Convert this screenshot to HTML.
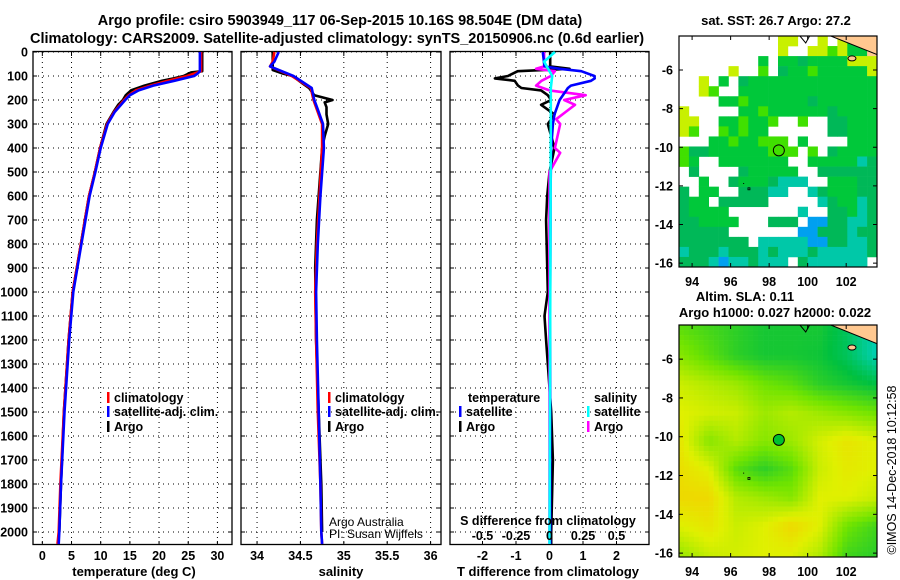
<!DOCTYPE html>
<html><head><meta charset="utf-8"><style>
html,body{margin:0;padding:0;background:#fff;}
svg{display:block;font-family:"Liberation Sans",sans-serif;}
.t{font-weight:bold;font-size:13px;}
.tk{font-weight:bold;font-size:12.5px;}
</style></head><body>
<svg id="c" width="900" height="580" viewBox="0 0 900 580">
<text x="340" y="25" text-anchor="middle" style="font-size:14.5px;font-weight:bold">Argo profile: csiro 5903949_117 06-Sep-2015 10.16S 98.504E (DM data)</text>
<text x="337" y="43" text-anchor="middle" style="font-size:14.5px;font-weight:bold">Climatology: CARS2009. Satellite-adjusted climatology: synTS_20150906.nc (0.6d earlier)</text>
<text x="776" y="25" text-anchor="middle" class="t">sat. SST: 26.7 Argo: 27.2</text>
<text x="745" y="301" text-anchor="middle" class="t">Altim. SLA: 0.11</text>
<text x="775" y="317" text-anchor="middle" class="t">Argo h1000: 0.027 h2000: 0.022</text>
<text transform="translate(896,470) rotate(-90)" text-anchor="middle" style="font-size:12.5px">©IMOS 14-Dec-2018 10:12:58</text>
<g id="g"></g>
</svg>
<script>
// ---- data ----
const depthTicks=[0,100,200,300,400,500,600,700,800,900,1000,1100,1200,1300,1400,1500,1600,1700,1800,1900,2000];
const tempTicks=[0,5,10,15,20,25,30];
const salTicks=[34,34.5,35,35.5,36];
const salTickLabels=["34","34.5","35","35.5","36"];
const tdiffTicks=[-2,-1,0,1,2];
const sdiffLabels=["-0.5","-0.25","0","0.25","0.5"];
const sdiffTicks=[-0.5,-0.25,0,0.25,0.5];

const argoTDepth=[0,80,85,100,110,120,140,160,180,200,220,250,300,400,500,600,700,800,1000,1200,1500,1800,2000];
const argoT=[27.4,27.4,25.5,24.2,22.5,20.5,17.5,15.2,14.3,13.8,13.0,12.2,11.0,9.9,9.0,8.0,7.3,6.6,5.2,4.5,3.7,3.2,2.9];
const climTDepth=[0,80,90,100,120,140,160,180,200,250,300,400,500,600,700,800,1000,1200,1500,1800,2000,2050];
const climT=[27.2,27.2,26.0,24.8,21.5,18.5,16.0,14.8,14.0,12.3,11.1,9.9,9.0,8.0,7.3,6.6,5.2,4.5,3.7,3.1,2.8,2.6];
const satT=[27.0,27.0,26.6,26.0,22.6,19.0,16.5,15.0,14.2,12.4,11.2,10.0,9.1,8.1,7.4,6.7,5.3,4.6,3.8,3.2,2.9,2.8];

const argoSDepth=[0,75,90,100,130,150,180,200,210,230,260,300,350,400,500,700,900,1200,1500,1800,2000];
const argoS=[34.18,34.18,34.3,34.41,34.52,34.6,34.66,34.87,34.78,34.8,34.8,34.82,34.78,34.75,34.73,34.69,34.67,34.68,34.71,34.74,34.75];
const climSDepth=[0,40,60,100,150,200,250,300,400,600,800,1000,1200,1500,1800,2000,2050];
const climS=[34.2,34.18,34.15,34.4,34.62,34.65,34.7,34.75,34.75,34.72,34.69,34.67,34.68,34.7,34.73,34.74,34.75];
const satS=[34.25,34.2,34.15,34.42,34.63,34.66,34.71,34.76,34.77,34.73,34.7,34.68,34.69,34.71,34.73,34.74,34.75];

const tdDepth=[0,60,70,80,100,110,120,140,150,160,180,200,220,260,300,400,500,600,700,1000,1100,1200,1500,1700,2000,2050];
const tdArgo=[0.02,0.02,0.6,-0.95,-1.24,-1.63,-1.04,-0.94,-0.84,-0.25,-0.05,0.05,-0.25,0.15,-0.05,0.15,0.0,-0.07,-0.1,-0.05,-0.15,-0.1,0.05,0.1,0.05,0.05];
const tdSat=[-0.2,-0.15,0.3,0.95,1.34,1.35,1.24,0.64,0.55,0.5,0.4,0.3,0.25,0.15,0.1,0.05,0.04,0.03,0.03,0.02,0.02,0.02,0.02,0.02,0.02,0.02];
const sdDepth=[0,60,70,80,100,120,140,160,180,200,220,250,280,300,400,420,500,1000,1500,2050];
const sdArgo=[-0.04,-0.04,-0.1,0.04,0.01,-0.06,-0.1,0.0,0.27,0.11,0.19,0.12,0.05,0.08,0.04,0.08,0.0,0.0,0.0,0.0];
const sdSatDepth=[0,40,100,150,300,2050];
const sdSat=[0.04,-0.04,0.02,0.01,0.01,0.0];

// SST map categories per cell (rows north->south)
const sstRows=[
"..........yy..y.yggo","..........y..yylyggo","........g.ggdggggyyy",".....y..l.dgglgggggy",
"..y.g.dggggggggggggg","..yl..gggggggggggggg","....gglggggggdgggggg","y.....gglggggggdgggg",
"yy..gglggl..l..ddggg","yl..lglgg......ddggg","...gglgglll.g....ggg","lddgggggglll.l.dgggg",
"lg..ggggggg..gggggcd",".d....dggggg..dddddd","..g..dgggdccc..gggdd","d.gg..dddcc..cdgggdd",
"dgg.ddddd.....cdggcd","dgggg.......c..ddgcd","ddgggg...ddd.bbddccd","ddddd.......bbdddcdd",
"ddddddd.cccccbbddccd","cdddcdddcdcccdcccccd","dddcbccdccc.dcccccc."];
// SLA coarse field (0 teal ... 1 orange)
const slaField=[
[0.45,0.4,0.35,0.3,0.3,0.3,0.2,0.05],
[0.55,0.45,0.35,0.3,0.3,0.28,0.2,0.05],
[0.7,0.65,0.6,0.5,0.45,0.35,0.3,0.25],
[0.75,0.72,0.7,0.6,0.65,0.6,0.55,0.5],
[0.78,0.55,0.65,0.55,0.6,0.72,0.8,0.75],
[0.82,0.75,0.45,0.35,0.45,0.7,0.78,0.75],
[0.85,0.85,0.65,0.6,0.55,0.75,0.75,0.7],
[0.75,0.8,0.7,0.75,0.85,0.75,0.5,0.4],
[0.6,0.7,0.72,0.75,0.75,0.65,0.4,0.35]];
const lonTicks=[94,96,98,100,102];
const latTicks=[-6,-8,-10,-12,-14,-16];
const floatLon=98.504, floatLat=-10.16;

// ---- drawing ----
const NS="http://www.w3.org/2000/svg";
const G=document.getElementById('g');
function el(t,a,p){const e=document.createElementNS(NS,t);for(const k in a)e.setAttribute(k,a[k]);(p||G).appendChild(e);return e;}
const Y0=52,Y1=545;
const yD=d=>Y0+d*0.24;
const panels=[{x0:33,x1:232,v0:-1.6,v1:32.5},{x0:241,x1:441,v0:33.815,v1:36.12},{x0:450,x1:649,v0:-2.97,v1:2.97}];
panels.forEach(p=>p.f=v=>p.x0+(v-p.v0)/(p.v1-p.v0)*(p.x1-p.x0));
const names=['temperature','salinity','difference'];
panels.forEach((p,i)=>{
  const g=el('g',{});
  
  
  depthTicks.forEach(d=>{
    const l=el('line',{x1:p.x0,x2:p.x1,y1:yD(d),y2:yD(d),stroke:'#000','stroke-width':1,'stroke-dasharray':'1,4'},g);
    
    
    el('line',{x1:p.x0,x2:p.x0+4,y1:yD(d),y2:yD(d),stroke:'#000'},g);
    el('line',{x1:p.x1-4,x2:p.x1,y1:yD(d),y2:yD(d),stroke:'#000'},g);
  });
  const xt=i==0?tempTicks:i==1?salTicks:tdiffTicks;
  xt.forEach((v,j)=>{
    const x=p.f(v);
    el('line',{x1:x,x2:x,y1:Y0,y2:Y1,stroke:'#000','stroke-dasharray':'1,4'},g);
    el('line',{x1:x,x2:x,y1:Y1-4,y2:Y1,stroke:'#000'},g);
    el('line',{x1:x,x2:x,y1:Y0,y2:Y0+4,stroke:'#000'},g);
    const t=el('text',{x:x,y:560,'text-anchor':'middle',class:'tk'},g);
    t.textContent=i==1?salTickLabels[j]:String(v);
    
    
  });
  const r=el('rect',{x:p.x0,y:Y0-0.5,width:p.x1-p.x0,height:Y1-Y0,fill:'none',stroke:'#000','stroke-width':1.3},g);
  
  
});
depthTicks.forEach(d=>{
  const t=el('text',{x:28,y:yD(d)+4.5,'text-anchor':'end',class:'tk'});
  t.textContent=d;
  
  
});
[['temperature (deg C)',134,'x-axis-title-temperature'],['salinity',341,'x-axis-title-salinity'],['T difference from climatology',548,'x-axis-title-tdiff']].forEach(a=>{
  const t=el('text',{x:a[1],y:576,'text-anchor':'middle',class:'t'});t.textContent=a[0];
  
  
});
function line(p,vals,deps,col,nm,w){
  const pts=vals.map((v,i)=>p.f(v).toFixed(1)+','+yD(deps[i]).toFixed(1)).join(' ');
  const l=el('polyline',{points:pts,fill:'none',stroke:col,'stroke-width':w||2.6,'stroke-linejoin':'round'});
  
  
}
const P=panels;
line(P[0],argoT,argoTDepth,'#000','argo-temperature-line');
line(P[0],climT,climTDepth,'#f00','climatology-temperature-line');
line(P[0],satT,climTDepth,'#00f','satellite-temperature-line');
line(P[1],argoS,argoSDepth,'#000','argo-salinity-line');
line(P[1],climS,climSDepth,'#f00','climatology-salinity-line');
line(P[1],satS,climSDepth,'#00f','satellite-salinity-line');
line(P[2],tdArgo,tdDepth,'#000','argo-tdiff-line');
const sS=P[2].f, s4={f:v=>sS(v*4)};
line(s4,sdArgo,sdDepth,'#f0f','argo-sdiff-line');
line(P[2],tdSat,tdDepth,'#00f','satellite-tdiff-line');
line(s4,sdSat,sdSatDepth,'#0ff','satellite-sdiff-line');

function legend(x,y,col,txt,nm,bold){
  const b=el('rect',{x:x,y:y-10,width:2.5,height:11,fill:col});
  const t=el('text',{x:x+7,y:y,style:'font-size:12.5px;font-weight:bold'});t.textContent=txt;
  
  
}
legend(107,402,'#f00','climatology','legend-climatology');
legend(107,416,'#00f','satellite-adj. clim.','legend-satellite');
legend(107,431,'#000','Argo','legend-argo');
legend(328,402,'#f00','climatology','legend-climatology-sal');
legend(328,416,'#00f','satellite-adj. clim.','legend-satellite-sal');
legend(328,431,'#000','Argo','legend-argo-sal');
{const t=el('text',{x:468,y:402,class:'tk'});t.textContent='temperature';}
{const t=el('text',{x:594,y:402,class:'tk'});t.textContent='salinity';}
legend(459,416,'#00f','satellite','legend-t-satellite');
legend(459,431,'#000','Argo','legend-t-argo');
legend(587,416,'#0ff','satellite','legend-s-satellite');
legend(587,431,'#f0f','Argo','legend-s-argo');
{const t=el('text',{x:329,y:526,style:'font-size:12px'});t.textContent='Argo Australia';}
{const t=el('text',{x:329,y:538,style:'font-size:12px'});t.textContent='PI: Susan Wijffels';}
{const t=el('text',{x:548,y:525,'text-anchor':'middle',class:'tk'});t.textContent='S difference from climatology';}
sdiffTicks.forEach((v,i)=>{const t=el('text',{x:s4.f(v),y:540,'text-anchor':'middle',class:'tk'});t.textContent=sdiffLabels[i];
  });

// maps
const MX0=679,MX1=877,LON0=93.32,LON1=103.6,LAT0=-4.24,LAT1=-16.2;
const mx=l=>MX0+(l-LON0)/(LON1-LON0)*(MX1-MX0);
function drawMap(y0,y1,nm,fill){
  const my=l=>y0+(l-LAT0)/(LAT1-LAT0)*(y1-y0);
  const g=el('g',{});
  
  
  const cp='cp'+y0;
  const cl=el('clipPath',{id:cp},g);el('rect',{x:MX0,y:y0,width:MX1-MX0,height:y1-y0},cl);
  const gi=el('g',{'clip-path':'url(#'+cp+')'},g);
  fill(gi,my,y0,y1);
  // land & coast
  el('path',{d:`M${mx(101.2)},${y0} L${MX1},${y0} L${MX1},${my(-5.2)} Z`,fill:'#ffc890',stroke:'none'},gi);
  el('path',{d:`M${mx(101.2)},${y0} L${MX1},${my(-5.2)}`,stroke:'#000',fill:'none'},gi);
  el('path',{d:`M${mx(99.6)},${y0} L${mx(99.9)},${my(-4.6)} L${mx(100.1)},${y0}`,stroke:'#000',fill:'none'},gi);
  el('ellipse',{cx:mx(102.3),cy:my(-5.4),rx:4,ry:2.5,fill:'#ffc890',stroke:'#000'},gi);
  el('rect',{x:mx(96.9),y:my(-12.1),width:2,height:2,fill:'none',stroke:'#000','stroke-width':0.8},gi);
  el('rect',{x:mx(96.65),y:my(-11.85),width:1,height:1,fill:'#000'},gi);
  const c=el('circle',{cx:mx(floatLon),cy:my(floatLat),r:5.5,fill:nm=='sla-map'?'#00c030':'none',stroke:'#000','stroke-width':1},g);
  
  
  el('rect',{x:MX0,y:y0,width:MX1-MX0,height:y1-y0,fill:'none',stroke:'#000','stroke-width':1.2},g);
  lonTicks.forEach(v=>{el('line',{x1:mx(v),x2:mx(v),y1:y1,y2:y1-4,stroke:'#000'},g);el('line',{x1:mx(v),x2:mx(v),y1:y0,y2:y0+4,stroke:'#000'},g);
    const t=el('text',{x:mx(v),y:y1+19,'text-anchor':'middle',class:'tk'},g);t.textContent=v;
    });
  latTicks.forEach(v=>{el('line',{x1:MX0,x2:MX0+4,y1:my(v),y2:my(v),stroke:'#000'},g);el('line',{x1:MX1-4,x2:MX1,y1:my(v),y2:my(v),stroke:'#000'},g);
    const t=el('text',{x:673,y:my(v)+4.5,'text-anchor':'end',class:'tk'},g);t.textContent=v;
    });
}
const sstCol={y:'#c8f000',l:'#40e000',g:'#00c83a',d:'#00b858',c:'#00c8a8',b:'#00a0f0',o:'#ffc890'};
drawMap(36,267,'sst-map',(gi,my,y0,y1)=>{
  const R=sstRows.length,C=sstRows[0].length,cw=(MX1-MX0)/C,ch=(y1-y0)/R;
  sstRows.forEach((row,r)=>{for(let c=0;c<C;c++){const k=row[c];if(k=='.')continue;
    el('rect',{x:MX0+c*cw,y:y0+r*ch,width:cw+0.3,height:ch+0.3,fill:sstCol[k]},gi);}});
});
function slaColor(v){
  const st=[[0,[0,210,200]],[0.25,[0,192,64]],[0.5,[112,228,0]],[0.75,[224,240,0]],[0.9,[245,205,0]],[1,[250,190,0]]];
  for(let i=1;i<st.length;i++){if(v<=st[i][0]){const a=st[i-1],b=st[i],t=(v-a[0])/(b[0]-a[0]);
    return 'rgb('+a[1].map((q,j)=>Math.round(q+(b[1][j]-q)*t)).join(',')+')';}}
  return 'rgb(250,190,0)';
}
drawMap(325,557,'sla-map',(gi,my,y0,y1)=>{
  const R=slaField.length,C=slaField[0].length,N=40,M=46,cw=(MX1-MX0)/N,ch=(y1-y0)/M;
  for(let i=0;i<M;i++)for(let j=0;j<N;j++){
    const fr=i/(M-1)*(R-1),fc=j/(N-1)*(C-1),r0=Math.min(R-2,Math.floor(fr)),c0=Math.min(C-2,Math.floor(fc)),tr=fr-r0,tc=fc-c0;
    const v=slaField[r0][c0]*(1-tr)*(1-tc)+slaField[r0][c0+1]*(1-tr)*tc+slaField[r0+1][c0]*tr*(1-tc)+slaField[r0+1][c0+1]*tr*tc;
    el('rect',{x:MX0+j*cw,y:y0+i*ch,width:cw+0.3,height:ch+0.3,fill:slaColor(v)},gi);
  }
});
</script>
</body></html>
